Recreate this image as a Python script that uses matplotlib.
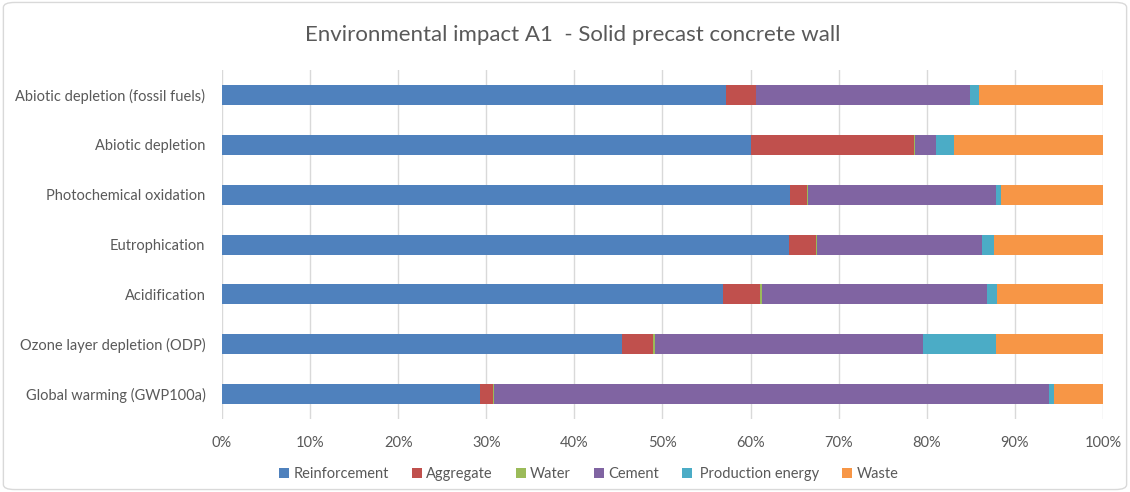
import numpy as np
import matplotlib
matplotlib.use("Agg")
import matplotlib.pyplot as plt
from matplotlib.patches import FancyBboxPatch

plt.rcParams['font.family'] = ['Lato', 'DejaVu Sans']

# categories top to bottom as in the chart
categories = ["Abiotic depletion (fossil fuels)", "Abiotic depletion", "Photochemical oxidation",
              "Eutrophication", "Acidification", "Ozone layer depletion (ODP)", "Global warming (GWP100a)"]

# share of each contribution, %
reinforcement = [57.2, 60.1, 64.5, 64.4, 56.9, 45.4, 29.3]
aggregate = [3.4, 18.4, 1.9, 3.0, 4.2, 3.5, 1.5]
water = [0.05, 0.2, 0.15, 0.2, 0.2, 0.3, 0.05]
cement = [24.3, 2.3, 21.35, 18.7, 25.5, 30.4, 63.1]
production_energy = [1.0, 2.1, 0.5, 1.3, 1.2, 8.3, 0.5]
waste = [14.1, 16.9, 11.6, 12.4, 12.0, 12.1, 5.6]

series = [("Reinforcement", reinforcement, "#4F81BD"),
          ("Aggregate", aggregate, "#C0504D"),
          ("Water", water, "#9BBB59"),
          ("Cement", cement, "#8064A2"),
          (" Production energy", production_energy, "#4BACC6"),
          ("Waste", waste, "#F79646")]

fig = plt.figure(figsize=(11.3, 4.92), dpi=100)
ax = fig.add_axes([0.1965, 0.148, 0.7795, 0.71])

y = np.arange(len(categories))
total = np.zeros(len(categories))
for _, vals, _ in series:
    total += np.array(vals)

left = np.zeros(len(categories))
for name, vals, col in series:
    share = np.array(vals) / total * 100
    ax.barh(y, share, left=left, height=0.4, color=col, label=name, zorder=3)
    left += share

ax.set_ylim(len(categories) - 0.5, -0.5)
ax.set_xlim(0, 100)
ax.set_xticks(np.arange(0, 101, 10))
ax.set_xticklabels([f"{v}%" for v in range(0, 101, 10)])
ax.set_yticks(y)
ax.set_yticklabels(categories)
ax.tick_params(axis='y', length=0, labelsize=10.5, colors="#595959", pad=12)
ax.tick_params(axis='x', length=0, labelsize=10.5, colors="#595959", pad=12)
ax.grid(axis='x', color="#D9D9D9", linewidth=1, zorder=0)
for s in ["top", "right", "bottom", "left"]:
    ax.spines[s].set_visible(False)

fig.suptitle("Environmental impact A1  - Solid precast concrete wall", x=0.507, y=0.95,
             fontsize=16, color="#595959")

fig.legend(loc="lower center", bbox_to_anchor=(0.521, -0.004), ncol=6, frameon=False,
           fontsize=10.5, handlelength=0.7, handleheight=0.7, handletextpad=0.3,
           columnspacing=1.55, labelcolor="#595959")

fig.patches.append(FancyBboxPatch((0.003, 0.005), 0.994, 0.99, boxstyle="round,pad=0,rounding_size=0.01",
                                  transform=fig.transFigure, fill=False, edgecolor="#D9D9D9", linewidth=1))

fig.savefig("out.png", dpi=100)
